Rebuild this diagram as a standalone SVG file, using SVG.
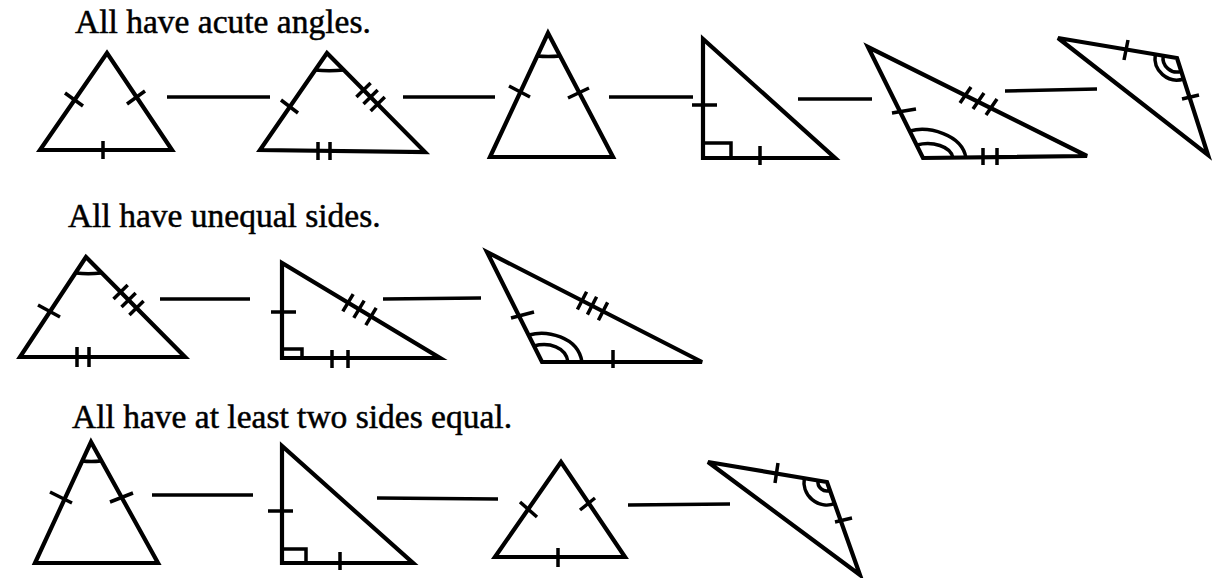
<svg xmlns="http://www.w3.org/2000/svg" width="1214" height="578" viewBox="0 0 1214 578">
<style>
.lbl{font-family:"Liberation Serif","Times New Roman",serif;font-size:33.5px;fill:#000;stroke:#000;stroke-width:0.5}
.tri{fill:none;stroke:#000;stroke-width:4.2;stroke-linejoin:miter}
.mk{fill:none;stroke:#000;stroke-width:3.5;stroke-linecap:butt}
.con{stroke:#000;stroke-width:3.5;fill:none}
</style>
<rect width="1214" height="578" fill="#fff"/>
<text class="lbl" x="75" y="33">All have acute angles.</text>
<text class="lbl" x="68" y="227">All have unequal sides.</text>
<text class="lbl" x="72" y="428">All have at least two sides equal.</text>

<g id="connectors">
<line class="con" x1="167" y1="97" x2="270" y2="97"/>
<line class="con" x1="403" y1="97" x2="495" y2="97"/>
<line class="con" x1="609" y1="97" x2="693" y2="97"/>
<line class="con" x1="798" y1="99" x2="872" y2="99"/>
<line class="con" x1="1005" y1="91" x2="1097" y2="89"/>
<line class="con" x1="160" y1="299" x2="250" y2="299"/>
<line class="con" x1="383" y1="299" x2="481" y2="298"/>
<line class="con" x1="152" y1="495" x2="253" y2="495"/>
<line class="con" x1="377" y1="498" x2="498" y2="499"/>
<line class="con" x1="628" y1="505" x2="730" y2="504"/>
</g>

<g id="r1t1">
<polygon class="tri" points="107,53 40,150 172,150"/>
<path class="mk" d="M65,93 L83,106 M127,104 L145,91 M103,141 L103,159"/>
</g>
<g id="r1t2">
<polygon class="tri" points="327,53 260,150 425,152"/>
<path class="mk" d="M315,70 Q329,71.5 344,70"/>
<path class="mk" d="M281,100 L298,113"/>
<path class="mk" d="M356.4,97 L370.6,83 M363.5,104 L377.7,90 M370.6,111 L384.8,97"/>
<path class="mk" d="M318,142 L318,160 M330,142 L330,160"/>
</g>
<g id="r1t3">
<polygon class="tri" points="548,33 490,157 613,157"/>
<path class="mk" d="M537,56 Q548,57 560,56"/>
<path class="mk" d="M509,86 L530,97 M568,98 L589,88"/>
</g>
<g id="r1t4">
<polygon class="tri" points="703,39 703,158 835,158"/>
<path class="mk" d="M692,105 L717,105 M703,143 L731,143 L731,158 M760,146 L760,165"/>
</g>
<g id="r1t5">
<polygon class="tri" points="868,47 923,158 1087,156"/>
<path class="mk" d="M892,113 L916,109"/>
<path class="mk" d="M960,103 L971,87 M973,109 L984,93 M986,115 L997,99"/>
<path class="mk" d="M910,131 C928,126 962,134 966,158 M917,145 C932,141 951,146 953,158"/>
<path class="mk" d="M983,148 L983,165 M997,148 L997,165"/>
</g>
<g id="r1t6">
<polygon class="tri" points="1058,38 1177,58 1208,155"/>
<path class="mk" d="M1128,40 L1124,60 M1182,99 L1199,95"/>
<path class="mk" d="M1155.3,54.4 A22,22 0 0,0 1183.7,79 M1163.2,55.7 A14,14 0 0,0 1181.3,71.3"/>
</g>

<g id="r2t1">
<polygon class="tri" points="86,257 20,357 185,357"/>
<path class="mk" d="M76,273 Q88,274.5 101,273"/>
<path class="mk" d="M38,305 L60,317"/>
<path class="mk" d="M113.5,299 L127.7,285 M121.5,307 L135.7,293 M129.4,315 L143.6,301"/>
<path class="mk" d="M77,347 L77,367 M89,347 L89,367"/>
</g>
<g id="r2t2">
<polygon class="tri" points="282,263 282,358 440,358"/>
<path class="mk" d="M271,312 L296,312 M282,349 L302,349 L302,358"/>
<path class="mk" d="M342.8,311.3 L353.2,294.1 M353.8,317.9 L364.2,300.7 M365.8,325.1 L376.2,307.9"/>
<path class="mk" d="M332,350 L332,368 M348,350 L348,368"/>
</g>
<g id="r2t3">
<polygon class="tri" points="487,252 542,362 702,362"/>
<path class="mk" d="M511,318 L534,312"/>
<path class="mk" d="M577.4,309.5 L586.6,291.7 M587.4,314.6 L596.6,296.8 M598.4,320.2 L607.6,302.4"/>
<path class="mk" d="M529,335 C546,330 578,336 582,362 M534,346 C549,342 566,347 568,362"/>
<path class="mk" d="M613,350 L613,368"/>
</g>

<g id="r3t1">
<polygon class="tri" points="91,442 35,563 158,563"/>
<path class="mk" d="M82,461 Q91,462 101,461"/>
<path class="mk" d="M50,492 L72,503 M110,502 L133,493"/>
</g>
<g id="r3t2">
<polygon class="tri" points="282,446 282,563 413,563"/>
<path class="mk" d="M268,511 L293,511 M282,549 L306,549 L306,563 M340,552 L340,570"/>
</g>
<g id="r3t3">
<polygon class="tri" points="561,462 495,557 625,557"/>
<path class="mk" d="M520,502 L537,517 M580,510 L595,498 M558,548 L558,567"/>
</g>
<g id="r3t4">
<polygon class="tri" points="708,462 827,482 860,575"/>
<path class="mk" d="M778,463 L775,483 M835,522 L852,518"/>
<path class="mk" d="M804.3,478.2 A23,23 0 0,0 834.7,503.7 M818.1,480.5 A9,9 0 0,0 830,490.5"/>
</g>
</svg>
